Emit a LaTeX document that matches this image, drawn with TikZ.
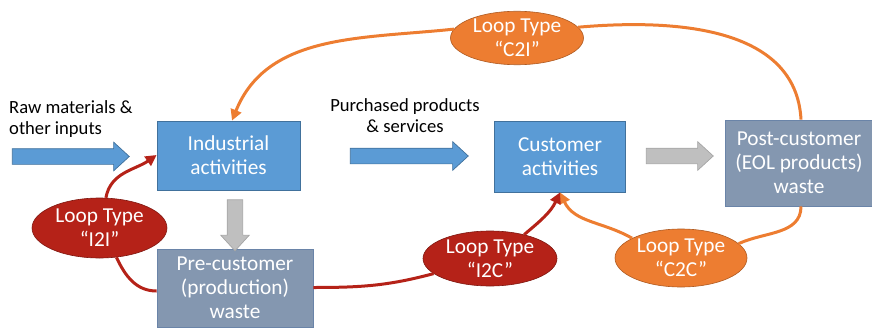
\documentclass[tikz,border=0pt]{standalone}
\usepackage{fontspec}
\setmainfont{Carlito}
\usetikzlibrary{shapes.geometric,shapes.arrows,arrows.meta}

\definecolor{boxblue}{HTML}{5B9BD5}
\definecolor{boxblueline}{HTML}{41719C}
\definecolor{wastegray}{HTML}{8497B0}
\definecolor{wasteline}{HTML}{6A84A8}
\definecolor{arrowgray}{HTML}{BFBFBF}
\definecolor{arrowgrayline}{HTML}{A5A5A5}
\definecolor{looporange}{HTML}{ED7D31}
\definecolor{looporangeline}{HTML}{AE5A21}
\definecolor{loopred}{HTML}{B52218}
\definecolor{loopredline}{HTML}{7F1710}

\tikzset{
  activity/.style={rectangle, fill=boxblue, draw=boxblueline, line width=0.8pt,
    text=white, align=center, font=\fontsize{21.3}{24}\selectfont, inner sep=0pt},
  wastebox/.style={activity, fill=wastegray, draw=wasteline},
  looporangeshape/.style={ellipse, fill=looporange, draw=looporangeline, line width=0.6pt,
    text=white, align=center, font=\fontsize{21.3}{24}\selectfont, inner sep=0pt},
  loopredshape/.style={looporangeshape, fill=loopred, draw=loopredline},
  blockarrow/.style={single arrow, inner sep=0pt, text height=15pt, text depth=0pt,
    text width=0pt, minimum width=28pt, single arrow head extend=6.5pt,
    single arrow tip angle=85, line width=0.7pt},
  flowblue/.style={blockarrow, fill=boxblue, draw=boxblueline},
  flowgray/.style={blockarrow, fill=arrowgray, draw=arrowgrayline},
  caption/.style={align=left, font=\fontsize{18.6}{21.5}\selectfont, inner sep=0pt},
  loopline/.style={line width=3pt},
  orangeline/.style={loopline, draw=looporange},
  redline/.style={loopline, draw=loopred},
  tip/.style={-{Triangle[length=11pt,width=11pt]}}
}

\begin{document}
\begin{tikzpicture}[x=1pt, y=-1pt]
  \useasboundingbox (0,0) rectangle (872,329);

  % activity and waste boxes
  \node[activity, minimum width=143pt, minimum height=69pt] (ind) at (228.5,155.5)
    {Industrial\\activities};
  \node[wastebox, minimum width=156pt, minimum height=78pt] (pre) at (235,288)
    {Pre-customer\\(production)\\waste};
  \node[activity, minimum width=131pt, minimum height=71pt] (cus) at (560,156.5)
    {Customer\\activities};
  \node[wastebox, minimum width=148pt, minimum height=86pt] (post) at (799,163)
    {Post-customer\\(EOL products)\\waste};

  % loop labels
  \node[looporangeshape, minimum width=133pt, minimum height=51pt] (c2i) at (517,38)
    {Loop Type\\“C2I”};
  \node[loopredshape, minimum width=135pt, minimum height=60pt] (i2i) at (99.5,228)
    {Loop Type\\“I2I”};
  \node[loopredshape, minimum width=134pt, minimum height=55pt] (i2c) at (490,258.5)
    {Loop Type\\“I2C”};
  \node[looporangeshape, minimum width=132pt, minimum height=58pt] (c2c) at (681,258)
    {Loop Type\\“C2C”};

  % block arrows of the main flow
  \node[flowblue, minimum height=117pt] (raw) at (66.5,156.5) {};
  \node[flowblue, minimum height=118pt] (buy) at (405,156) {};
  \node[flowgray, minimum height=67pt] (eol) at (675.5,156) {};
  \node[flowgray, minimum height=51pt, rotate=-90] (scrap) at (235,221) {};

  % flow captions
  \node[caption, anchor=north west] (rawtext) at (9,100) {Raw materials \&\\other inputs};
  \node[caption, align=center, anchor=north] (buytext) at (405,98)
    {Purchased products\\\& services};

  % C2I loop: post-customer back to industrial activities
  \draw[orangeline] (post.north -| 801,0) to[out=93, in=5] (c2i.10);
  \draw[orangeline, tip] (c2i.172) to[out=186, in=68] (ind.north -| 232,0);

  % C2C loop: post-customer back to customer activities
  \draw[orangeline] (post.south -| 801,0) to[out=-90, in=25] (c2c.14);
  \draw[orangeline, tip] (c2c.158) to[out=150, in=-65] (cus.south);

  % I2I loop: pre-customer back to industrial activities
  \draw[redline] (pre.west |- 0,291) to[out=180, in=-65] (i2i.-60);
  \draw[redline, tip] (i2i.78) to[out=80, in=215] (ind.west |- 0,155);

  % I2C loop: pre-customer to customer activities
  \draw[redline] (pre.east |- 0,287.5) to[out=0, in=195] (i2c.195);
  \draw[redline, tip] (i2c.35) to[out=40, in=-115] (cus.south);
\end{tikzpicture}
\end{document}
